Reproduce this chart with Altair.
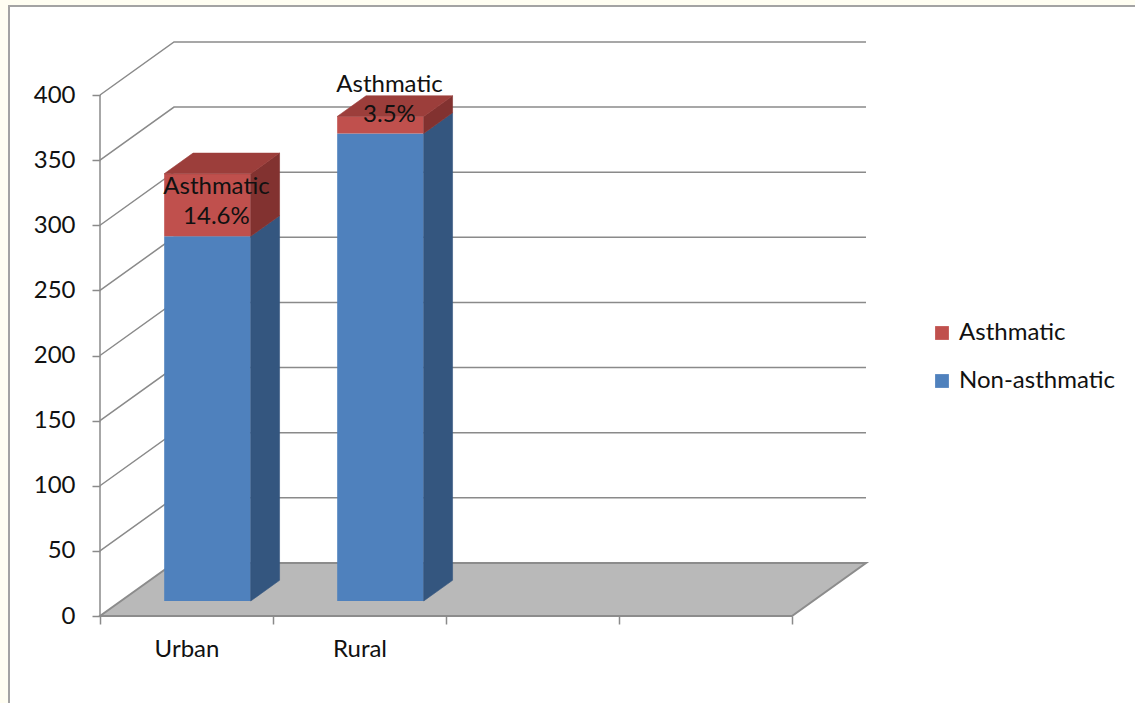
import altair as alt
import pandas as pd

# ---- data -------------------------------------------------------------
categories = ["Urban", "Rural"]
non_asthmatic = [280, 359]
asthmatic = [48, 13]
series_order = ["Non-asthmatic", "Asthmatic"]          # stacking order
legend_order = ["Asthmatic", "Non-asthmatic"]
y_ticks = [0, 50, 100, 150, 200, 250, 300, 350, 400]

# ---- oblique "3-D" projection parameters --------------------------------
SLOTS = 4            # category slots along the floor
SLOT = 173           # slot width in x units
DX = 74              # depth shift along x
DY = 40.7            # depth shift along y (value units)
BAR_FRONT = 0.283    # depth fraction where bar fronts sit
BAR_DEPTH = 0.39     # depth fraction taken by a bar
BAR_W = 0.5          # bar width as share of a slot
Y_MAX = 400
PX_PER_UNIT = 1.3025
W = SLOTS * SLOT + DX
H = round((Y_MAX + DY) * PX_PER_UNIT)

FONT = "Lato"
FS = 24
GRID = "#8a8a8a"

front_col = {"Asthmatic": "#C0504D", "Non-asthmatic": "#4F81BD"}
side_col = {"Asthmatic": "#823230", "Non-asthmatic": "#34567F"}
top_col = {"Asthmatic": "#9C3E3B", "Non-asthmatic": "#3E6695"}

values = {"Non-asthmatic": non_asthmatic, "Asthmatic": asthmatic}

fronts, sides, tops, labels = [], [], [], []
bdx, bdy = BAR_DEPTH * DX, BAR_DEPTH * DY
for i, cat in enumerate(categories):
    x0 = i * SLOT + BAR_FRONT * DX + (1 - BAR_W) / 2 * SLOT
    x1 = x0 + BAR_W * SLOT
    base = BAR_FRONT * DY
    for j, s in enumerate(series_order):
        v = values[s][i]
        y0, y1 = base, base + v
        key = f"{cat}-{s}"
        fronts.append(dict(series=s, x=x0, x2=x1, y=y0, y2=y1))
        sides.append(dict(key=key, c=side_col[s], x=x1, y=y0, y2=y1))
        sides.append(dict(key=key, c=side_col[s], x=x1 + bdx, y=y0 + bdy, y2=y1 + bdy))
        if j == len(series_order) - 1:
            tops.append(dict(key=key, c=top_col[s], y=y1, x=x0, x2=x1))
            tops.append(dict(key=key, c=top_col[s], y=y1 + bdy, x=x0 + bdx, x2=x1 + bdx))
        base = y1
    # data label of the asthmatic share
    total = non_asthmatic[i] + asthmatic[i]
    pct = f"{asthmatic[i] / total * 100:.1f}%"
    seg0 = BAR_FRONT * DY + non_asthmatic[i]
    seg1 = seg0 + asthmatic[i]
    line = 30 / PX_PER_UNIT
    centre = max((seg0 + seg1) / 2, seg0 + line + 3)
    xm = (x0 + x1) / 2
    labels.append(dict(x=xm, y=centre + line / 2, t="Asthmatic"))
    labels.append(dict(x=xm, y=centre - line / 2, t=pct))

grid_rows = []
for v in y_ticks[1:]:
    grid_rows += [
        dict(g=v, o=0, x=0, y=v),
        dict(g=v, o=1, x=DX, y=v + DY),
        dict(g=v, o=2, x=W, y=v + DY),
    ]

floor_rows = [dict(y=0, x=0, x2=SLOTS * SLOT), dict(y=DY, x=DX, x2=W)]

xs = alt.Scale(domain=[0, W], nice=False, zero=False)
ys = alt.Scale(domain=[0, Y_MAX + DY], nice=False, zero=False)

tick_vals = [k * SLOT for k in range(SLOTS + 1)]
cat_js = "[" + ",".join(f"'{c}'" for c in categories) + "]"
x_axis = alt.Axis(
    values=tick_vals, labelExpr=f"{cat_js}[round(datum.value / {SLOT})] || ''",
    labelOffset=SLOT / 2, labelFlush=False, labelOverlap=False,
    tickSize=8, tickColor=GRID, tickWidth=1.5, domain=False, grid=False,
    labelFont=FONT, labelFontSize=FS, labelColor="#111", labelPadding=13, title=None,
    zindex=1,
)
y_axis = alt.Axis(
    values=y_ticks, tickSize=8, tickColor=GRID, tickWidth=1.5, domain=False, grid=False,
    labelFont=FONT, labelFontSize=FS, labelColor="#111", labelPadding=17, title=None,
    zindex=1,
)

# white panel with a thin grey frame behind everything
frame = alt.Chart(pd.DataFrame({"a": [0]})).mark_rect(
    fill="white", stroke="#a3a3a3", strokeWidth=2
).encode(x=alt.value(-91), x2=alt.value(W + 400), y=alt.value(-36), y2=alt.value(H + 300))

grid = alt.Chart(pd.DataFrame(grid_rows)).mark_line(color=GRID, strokeWidth=1.5).encode(
    x=alt.X("x:Q", scale=xs, axis=x_axis),
    y=alt.Y("y:Q", scale=ys, axis=y_axis),
    detail="g:N", order="o:Q",
)

floor = alt.Chart(pd.DataFrame(floor_rows)).mark_area(
    orient="horizontal", fill="#b9b9b9", stroke="#8c8c8c", strokeWidth=2
).encode(x=alt.X("x:Q", scale=xs), x2="x2:Q", y=alt.Y("y:Q", scale=ys))

y_line = alt.Chart(pd.DataFrame({"x": [0], "y": [0], "y2": [Y_MAX]})).mark_rule(
    color=GRID, strokeWidth=1.5
).encode(x=alt.X("x:Q", scale=xs), y=alt.Y("y:Q", scale=ys), y2="y2:Q")

front = alt.Chart(pd.DataFrame(fronts)).mark_rect().encode(
    x=alt.X("x:Q", scale=xs), x2="x2:Q",
    y=alt.Y("y:Q", scale=ys), y2="y2:Q",
    color=alt.Color(
        "series:N",
        scale=alt.Scale(domain=legend_order, range=[front_col[s] for s in legend_order]),
        legend=alt.Legend(
            title=None, orient="none", legendX=830, legendY=279,
            symbolType="square", symbolSize=190, symbolStrokeWidth=0,
            labelFont=FONT, labelFontSize=FS, labelColor="#111",
            labelOffset=5, rowPadding=24, padding=0,
        ),
    ),
)

side = alt.Chart(pd.DataFrame(sides)).mark_area(strokeWidth=0.6).encode(
    x=alt.X("x:Q", scale=xs), y=alt.Y("y:Q", scale=ys), y2="y2:Q",
    detail="key:N", color=alt.Color("c:N", scale=None), stroke=alt.Stroke("c:N", scale=None),
)

top = alt.Chart(pd.DataFrame(tops)).mark_area(orient="horizontal", strokeWidth=0.6).encode(
    x=alt.X("x:Q", scale=xs), x2="x2:Q", y=alt.Y("y:Q", scale=ys),
    detail="key:N", color=alt.Color("c:N", scale=None), stroke=alt.Stroke("c:N", scale=None),
)

text = alt.Chart(pd.DataFrame(labels)).mark_text(
    font=FONT, fontSize=FS, color="#111", baseline="middle", align="center", dx=9
).encode(x=alt.X("x:Q", scale=xs), y=alt.Y("y:Q", scale=ys), text="t:N")

chart = (
    alt.layer(frame, grid, floor, y_line, front, side, top, text)
    .properties(
        width=W, height=H,
        autosize=alt.AutoSizeParams(type="none"),
        padding={"left": 100, "top": 42, "right": 1135 - 100 - W, "bottom": 703 - 42 - H},
        background="#fffef2",
    )
    .configure_view(stroke=None)
)

chart.save("out.html", embed_options={"renderer": "svg", "actions": False})
